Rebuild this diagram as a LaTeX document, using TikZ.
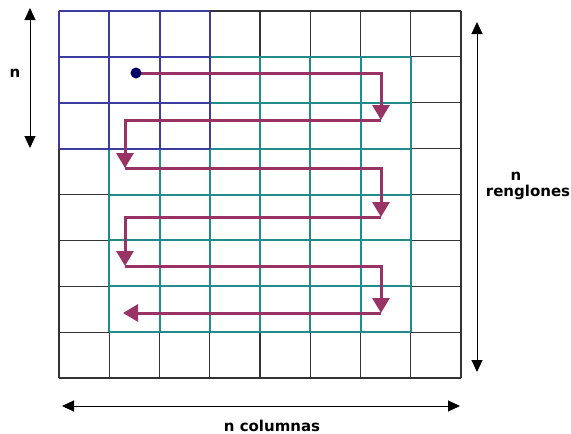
\documentclass[tikz,border=0pt]{standalone}
\usepackage{fontspec}
\setmainfont{DejaVu Sans}
\usetikzlibrary{arrows.meta}
\definecolor{gridblue}{HTML}{3C3C9E}
\definecolor{gridteal}{HTML}{228B8B}
\definecolor{pathred}{HTML}{993366}
\definecolor{dotblue}{HTML}{000066}
\tikzset{
  blackgrid/.style={line width=1.2pt, draw=black!80},
  tealgrid/.style={line width=2pt, draw=gridteal},
  bluegrid/.style={line width=2pt, draw=gridblue},
  walk/.style={line width=3pt, draw=pathred, line join=miter},
  walkarrow/.style={walk, -{Triangle[length=15pt,width=17pt]}},
  dimarrow/.style={line width=1pt, {Triangle[length=12pt,width=11pt]}-{Triangle[length=12pt,width=11pt]}},
  lbl/.style={font=\fontsize{15}{17}\selectfont\bfseries, inner sep=0pt}
}
\begin{document}
\begin{tikzpicture}[x=1pt,y=-1pt]
\useasboundingbox (0,0) rectangle (571,434);
\fill[white] (0,0) rectangle (571,434);
% black grid 8x8
\foreach \i in {0,...,8}{
  \draw[blackgrid] ({59+\i*50.25},11) -- ({59+\i*50.25},378);
  \draw[blackgrid] (59,{11+\i*45.875}) -- (461,{11+\i*45.875});
}
% teal grid 7x7 (columns 1..7, rows 1..7)
\foreach \i in {1,...,7}{
  \draw[tealgrid] ({59+\i*50.25},{11+45.875}) -- ({59+\i*50.25},{11+7*45.875});
  \draw[tealgrid] ({59+50.25},{11+\i*45.875}) -- ({59+7*50.25},{11+\i*45.875});
}
% blue grid 3x3
\foreach \i in {0,...,3}{
  \draw[bluegrid] ({59+\i*50.25},11) -- ({59+\i*50.25},{11+3*45.875});
  \draw[bluegrid] (59,{11+\i*45.875}) -- ({59+3*50.25},{11+\i*45.875});
}
% walk
\coordinate (s) at (136,73);
\coordinate (r1) at (381,73);
\coordinate (r1d) at (381,120);
\coordinate (l1) at (125,120);
\coordinate (l1d) at (125,168);
\coordinate (r2) at (381,168);
\coordinate (r2d) at (381,217);
\coordinate (l2) at (125,217);
\coordinate (l2d) at (125,266);
\coordinate (r3) at (381,266);
\coordinate (r3d) at (381,313);
\coordinate (e) at (123,313);
\draw[walkarrow] (s) -- (r1) -- (r1d);
\draw[walkarrow] (r1d) -- (l1) -- (l1d);
\draw[walkarrow] (l1d) -- (r2) -- (r2d);
\draw[walkarrow] (r2d) -- (l2) -- (l2d);
\draw[walkarrow] (l2d) -- (r3) -- (r3d);
\draw[walkarrow] (r3d) -- (e);
\fill[dotblue] (s) circle (5.5);
% dimension arrows
\coordinate (lt) at (30,8);
\coordinate (lb) at (30,148);
\coordinate (rt) at (477,22);
\coordinate (rb) at (477,372);
\coordinate (bl) at (62,406);
\coordinate (br) at (460,406);
\draw[dimarrow] (lt) -- (lb);
\draw[dimarrow] (rt) -- (rb);
\draw[dimarrow] (bl) -- (br);
\node[lbl] (nl) at (15,73) {n};
\node[lbl] (nr) at (516,176) {n};
\node[lbl] (ren) at (528,192) {renglones};
\node[lbl] (col) at (272,426) {n columnas};
\end{tikzpicture}
\end{document}
